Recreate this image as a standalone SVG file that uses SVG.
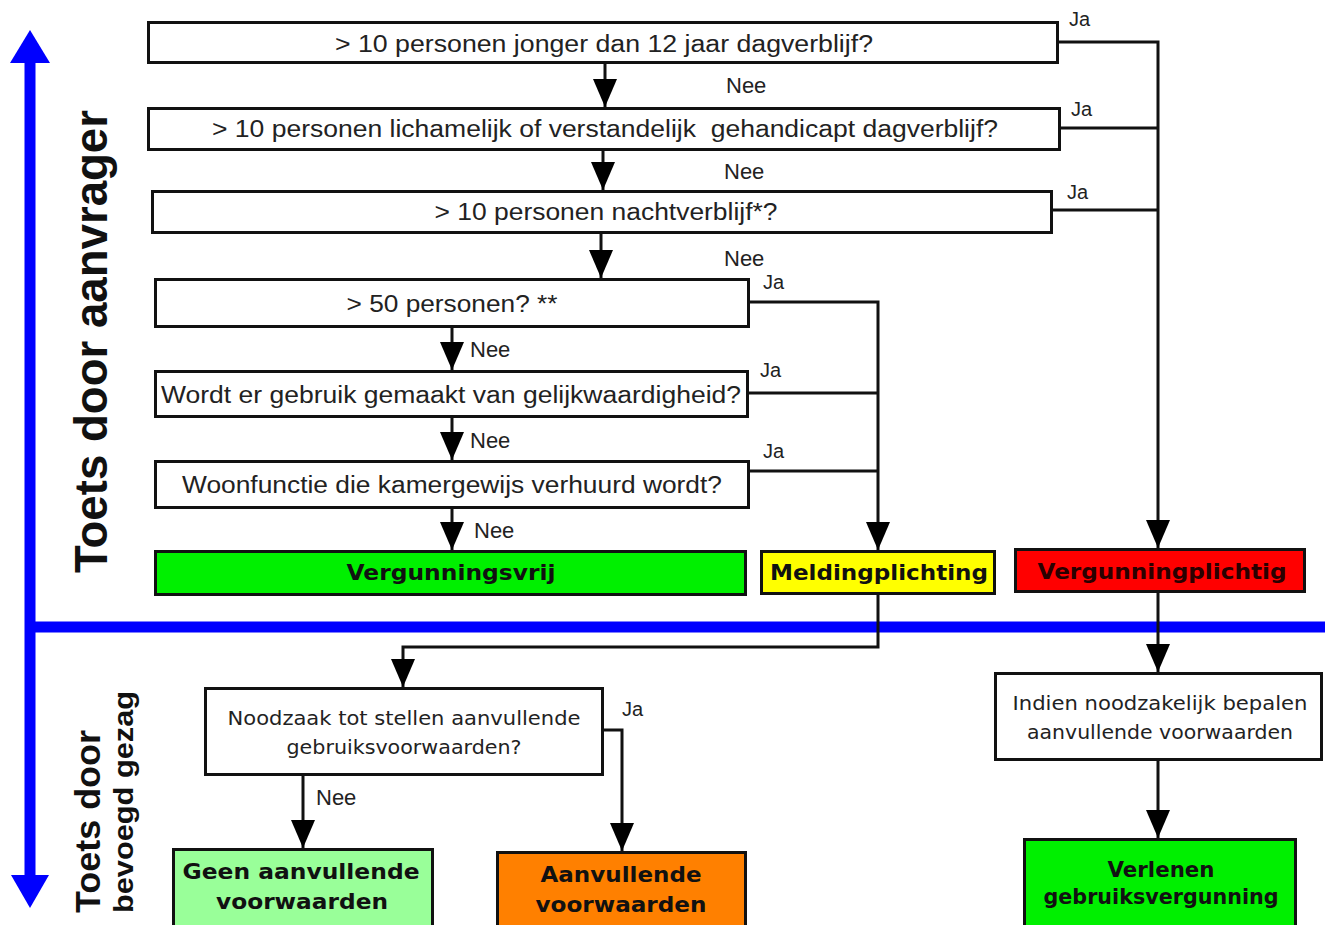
<svg xmlns="http://www.w3.org/2000/svg" width="1325" height="925" viewBox="0 0 1325 925">
<style>
.box{fill:#fff;stroke:#111;stroke-width:3}
.q{font-family:"Liberation Sans",Arial,sans-serif;font-size:23px;fill:#222;text-anchor:middle}
.lbl{font-family:"Liberation Sans",Arial,sans-serif;fill:#222}
.nee{font-size:22px}
.ja{font-size:20px}
.res{font-family:"DejaVu Sans",Verdana,sans-serif;font-weight:bold;font-size:22px;fill:#111;text-anchor:middle}
.sub{font-family:"DejaVu Sans",Verdana,sans-serif;font-size:19px;fill:#222;text-anchor:middle}
.side{font-family:"Liberation Sans",Arial,sans-serif;font-weight:bold;fill:#111}
.con{fill:none;stroke:#111;stroke-width:3}
</style>
<defs>
<marker id="ah" markerUnits="userSpaceOnUse" markerWidth="28" markerHeight="24" refX="28" refY="12" orient="auto">
<path d="M0,0 L28,12 L0,24 z" fill="#000"/>
</marker>
</defs>

<g id="axis">
<line x1="30" y1="60" x2="30" y2="880" stroke="#0000ff" stroke-width="11"/>
<polygon points="30,30 10,63 50,63" fill="#0000ff"/>
<polygon points="30,908 11,875 49,875" fill="#0000ff"/>
<line x1="30" y1="627" x2="1325" y2="627" stroke="#0000ff" stroke-width="11"/>
<text class="side" font-size="46" transform="translate(107,573) rotate(-90)" textLength="463" lengthAdjust="spacingAndGlyphs">Toets door aanvrager</text>
<text class="side" font-size="35" transform="translate(100,913) rotate(-90)" textLength="183" lengthAdjust="spacingAndGlyphs">Toets door</text>
<text class="side" font-size="28" transform="translate(133,913) rotate(-90)" textLength="222" lengthAdjust="spacingAndGlyphs">bevoegd gezag</text>
</g>

<g id="connectors">
<path class="con" d="M605,63 V107" marker-end="url(#ah)"/>
<path class="con" d="M603,150 V190" marker-end="url(#ah)"/>
<path class="con" d="M601,233 V278" marker-end="url(#ah)"/>
<path class="con" d="M452,327 V370" marker-end="url(#ah)"/>
<path class="con" d="M452,417 V460" marker-end="url(#ah)"/>
<path class="con" d="M452,508 V550" marker-end="url(#ah)"/>
<path class="con" d="M1059,42 H1158 V548" marker-end="url(#ah)"/>
<path class="con" d="M1061,128 H1158"/>
<path class="con" d="M1053,210 H1158"/>
<path class="con" d="M750,302 H878 V550" marker-end="url(#ah)"/>
<path class="con" d="M748,393 H878"/>
<path class="con" d="M750,471 H878"/>
<path class="con" d="M878,594 V647 H403 V687" marker-end="url(#ah)"/>
<path class="con" d="M1158,592 V672" marker-end="url(#ah)"/>
<path class="con" d="M1158,760 V838" marker-end="url(#ah)"/>
<path class="con" d="M303,775 V848" marker-end="url(#ah)"/>
<path class="con" d="M603,730 H622 V851" marker-end="url(#ah)"/>
<text class="lbl nee" x="726" y="93">Nee</text>
<text class="lbl nee" x="724" y="179">Nee</text>
<text class="lbl nee" x="724" y="266">Nee</text>
<text class="lbl nee" x="470" y="357">Nee</text>
<text class="lbl nee" x="470" y="448">Nee</text>
<text class="lbl nee" x="474" y="538">Nee</text>
<text class="lbl nee" x="316" y="805">Nee</text>
<text class="lbl ja" x="1069" y="26">Ja</text>
<text class="lbl ja" x="1071" y="116">Ja</text>
<text class="lbl ja" x="1067" y="199">Ja</text>
<text class="lbl ja" x="763" y="289">Ja</text>
<text class="lbl ja" x="760" y="377">Ja</text>
<text class="lbl ja" x="763" y="458">Ja</text>
<text class="lbl ja" x="622" y="716">Ja</text>
</g>

<g id="q1"><rect class="box" x="148.5" y="22.5" width="909" height="40"/>
<text class="q" x="604" y="52" textLength="538" lengthAdjust="spacingAndGlyphs">&gt; 10 personen jonger dan 12 jaar dagverblijf?</text></g>
<g id="q2"><rect class="box" x="148.5" y="108.5" width="911" height="41"/>
<text class="q" x="605" y="137" textLength="786" lengthAdjust="spacingAndGlyphs" xml:space="preserve">&gt; 10 personen lichamelijk of verstandelijk  gehandicapt dagverblijf?</text></g>
<g id="q3"><rect class="box" x="152.5" y="191.5" width="899" height="41"/>
<text class="q" x="606" y="220" textLength="343" lengthAdjust="spacingAndGlyphs">&gt; 10 personen nachtverblijf*?</text></g>
<g id="q4"><rect class="box" x="155.5" y="279.5" width="593" height="47"/>
<text class="q" x="452" y="312" textLength="211" lengthAdjust="spacingAndGlyphs">&gt; 50 personen? **</text></g>
<g id="q5"><rect class="box" x="155.5" y="371.5" width="592" height="45"/>
<text class="q" x="451" y="403" textLength="580" lengthAdjust="spacingAndGlyphs">Wordt er gebruik gemaakt van gelijkwaardigheid?</text></g>
<g id="q6"><rect class="box" x="155.5" y="461.5" width="593" height="46"/>
<text class="q" x="452" y="493" textLength="540" lengthAdjust="spacingAndGlyphs">Woonfunctie die kamergewijs verhuurd wordt?</text></g>

<g id="vergunningsvrij"><rect class="box" x="155.5" y="551.5" width="590" height="43" style="fill:#00f000"/>
<text class="res" x="451" y="580" textLength="209" lengthAdjust="spacingAndGlyphs">Vergunningsvrij</text></g>
<g id="meldingplichting"><rect class="box" x="761.5" y="551.5" width="233" height="42" style="fill:#ffff00"/>
<text class="res" x="879" y="580" textLength="218" lengthAdjust="spacingAndGlyphs">Meldingplichting</text></g>
<g id="vergunningplichtig"><rect class="box" x="1015.5" y="549.5" width="289" height="42" style="fill:#ff0000"/>
<text class="res" x="1162" y="579" textLength="249" lengthAdjust="spacingAndGlyphs" style="fill:#2a0000">Vergunningplichtig</text></g>

<g id="indien"><rect class="box" x="995.5" y="673.5" width="326" height="86"/>
<text class="sub" x="1160" y="710" textLength="295" lengthAdjust="spacingAndGlyphs">Indien noodzakelijk bepalen</text>
<text class="sub" x="1160" y="739" textLength="266" lengthAdjust="spacingAndGlyphs">aanvullende voorwaarden</text></g>
<g id="verlenen"><rect class="box" x="1024.5" y="839.5" width="271" height="95" style="fill:#00f000"/>
<text class="res" x="1161" y="877" textLength="107" lengthAdjust="spacingAndGlyphs">Verlenen</text>
<text class="res" x="1161" y="904" textLength="235" lengthAdjust="spacingAndGlyphs">gebruiksvergunning</text></g>

<g id="noodzaak"><rect class="box" x="205.5" y="688.5" width="397" height="86"/>
<text class="sub" x="404" y="725" textLength="353" lengthAdjust="spacingAndGlyphs">Noodzaak tot stellen aanvullende</text>
<text class="sub" x="404" y="754" textLength="235" lengthAdjust="spacingAndGlyphs">gebruiksvoorwaarden?</text></g>
<g id="geen"><rect class="box" x="173.5" y="849.5" width="259" height="85" style="fill:#99ff99"/>
<text class="res" x="301" y="879" textLength="237" lengthAdjust="spacingAndGlyphs">Geen aanvullende</text>
<text class="res" x="302" y="909" textLength="172" lengthAdjust="spacingAndGlyphs">voorwaarden</text></g>
<g id="aanvullende"><rect class="box" x="497.5" y="852.5" width="248" height="82" style="fill:#ff8000"/>
<text class="res" x="621" y="882" textLength="161" lengthAdjust="spacingAndGlyphs">Aanvullende</text>
<text class="res" x="621" y="912" textLength="171" lengthAdjust="spacingAndGlyphs">voorwaarden</text></g>
</svg>
